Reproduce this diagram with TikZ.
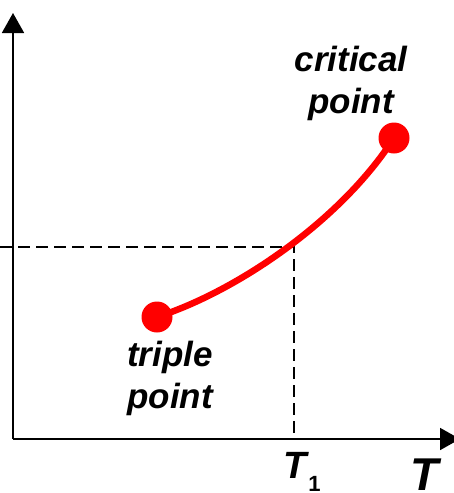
\documentclass[tikz,border=0pt]{standalone}
\usepackage{fontspec}
\setmainfont{Liberation Sans}
\usetikzlibrary{arrows.meta}
\begin{document}
\begin{tikzpicture}[x=1pt,y=-1pt,
  axis/.style={line width=1.8pt,-{Triangle[width=22pt,length=20pt]}},
  guide/.style={line width=1.3pt,dash pattern=on 12pt off 6pt},
  curve/.style={red,line width=6.5pt},
  dot/.style={circle,fill=red,minimum size=31pt,inner sep=0pt},
  lbl/.style={font=\fontsize{35}{42}\selectfont\bfseries\itshape,align=center,inner sep=0pt}]
\useasboundingbox (0,0) rectangle (453,493);
\coordinate (o) at (13,439);
\coordinate (ytip) at (13,13);
\coordinate (xtip) at (460,439);
\coordinate (hl) at (0,247);
\coordinate (cross) at (294,247);
\coordinate (foot) at (294,439);
\draw[guide] (hl) -- (cross) -- (foot);
\draw[axis] (o) -- (ytip);
\draw[axis] (o) -- (xtip);
\node[dot] (tp) at (157,317) {};
\node[dot] (cp) at (394,138) {};
\draw[curve] (tp.center) .. controls (235,292) and (340,222) .. (cp.center);
\node[lbl,anchor=base] (cl) at (351,113) {critical\\point};
\node[lbl,anchor=base] (tl) at (170,408) {triple\\point};
\node[anchor=base,inner sep=0pt,font=\fontsize{38}{38}\selectfont\bfseries\itshape] (t1) at (302,478) {T\kern2pt\raisebox{-13pt}{\fontsize{22}{22}\selectfont\upshape 1}};
\node[anchor=base,inner sep=0pt,font=\fontsize{46}{46}\selectfont\bfseries\itshape] (t) at (425,490) {T};
\end{tikzpicture}
\end{document}
